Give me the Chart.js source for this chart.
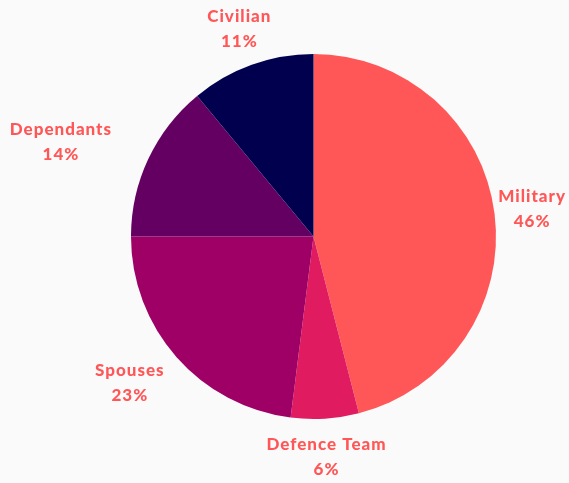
<!DOCTYPE html>
<html>
<head>
<meta charset="utf-8">
<script src="https://cdn.jsdelivr.net/npm/chart.js@4/dist/chart.umd.min.js"></script>
<style>
  html, body { margin: 0; padding: 0; background: #FAFAFA; }
  #wrap { width: 569px; height: 483px; position: relative; }
</style>
</head>
<body>
<div id="wrap"><canvas id="c" width="569" height="483"></canvas></div>
<script>
const categories = ["Military", "Defence Team", "Spouses", "Dependants", "Civilian"];
const percentages = [46, 6, 23, 14, 11];
const sliceColors = ["#FF5757", "#E01B60", "#9E0066", "#630062", "#01004F"];

const outerLabels = {
  id: 'outerLabels',
  afterDatasetsDraw(chart) {
    const ctx = chart.ctx;
    const meta = chart.getDatasetMeta(0);
    ctx.save();
    ctx.font = '900 17px Lato, "DejaVu Sans", sans-serif';
    if ('letterSpacing' in ctx) ctx.letterSpacing = '1px';
    ctx.fillStyle = '#FF5757';
    ctx.textAlign = 'center';
    ctx.textBaseline = 'middle';
    const lineGap = 25;
    const W = chart.width;
    meta.data.forEach((arc, i) => {
      const p = arc.getProps(['x', 'y', 'startAngle', 'endAngle', 'outerRadius'], true);
      const mid = (p.startAngle + p.endAngle) / 2;
      const l1 = categories[i];
      const l2 = percentages[i] + '%';
      const hw = Math.max(ctx.measureText(l1).width, ctx.measureText(l2).width) / 2;
      const hh = lineGap / 2 + 10;
      const r = p.outerRadius + 18;
      const c = Math.cos(mid), s = Math.sin(mid);
      let cx = p.x + c * r + 1.7 * hw * c * Math.abs(c);
      const cy = p.y + s * r + s * hh - 2 * s;
      cx = Math.min(cx, W - 3 - hw);
      cx = Math.max(cx, 3 + hw);
      ctx.fillText(l1, cx, cy - lineGap / 2);
      ctx.fillText(l2, cx, cy + lineGap / 2);
    });
    ctx.restore();
  }
};

new Chart(document.getElementById('c'), {
  type: 'pie',
  data: {
    labels: categories,
    datasets: [{
      data: percentages,
      backgroundColor: sliceColors,
      borderWidth: 0
    }]
  },
  options: {
    responsive: false,
    animation: false,
    layout: { padding: { left: 131, right: 73, top: 54, bottom: 64 } },
    plugins: {
      legend: { display: false },
      tooltip: { enabled: false }
    }
  },
  plugins: [outerLabels]
});
</script>
</body>
</html>
